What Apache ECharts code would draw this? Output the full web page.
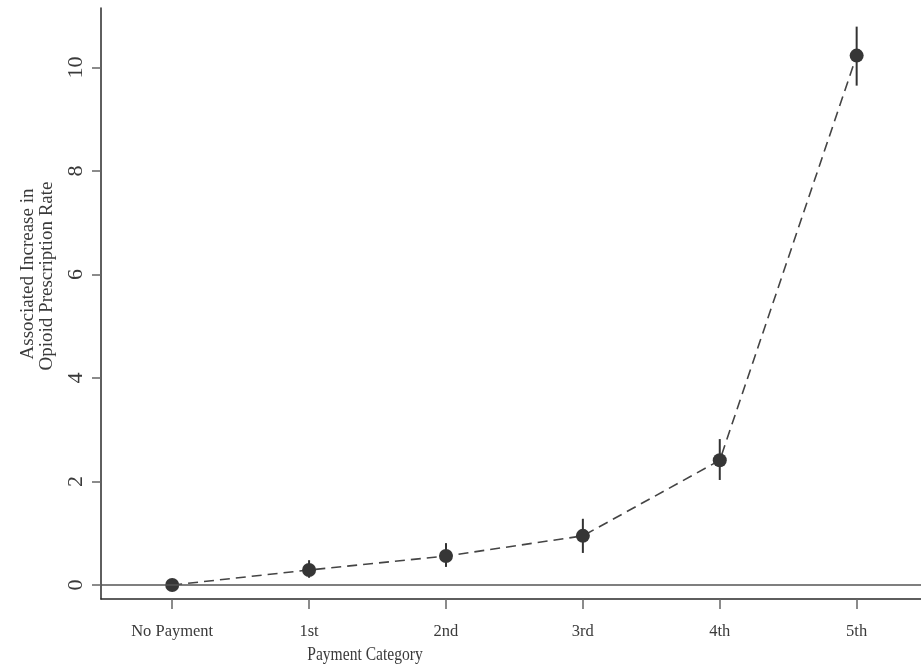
<!DOCTYPE html>
<html>
<head>
<meta charset="utf-8">
<script src="https://cdn.jsdelivr.net/npm/echarts@6/dist/echarts.min.js"></script>
<style>
html,body{margin:0;padding:0;background:#fff;}
#chart{width:921px;height:669px;}
</style>
</head>
<body>
<div id="chart"></div>
<script>
var categories = ['No Payment', '1st', '2nd', '3rd', '4th', '5th'];
var estimates = [0, 0.29, 0.56, 0.95, 2.41, 10.23];
var lowerCI = [0, 0.14, 0.35, 0.62, 2.03, 9.65];
var upperCI = [0, 0.48, 0.81, 1.28, 2.82, 10.79];
var yTicks = [0, 2, 4, 6, 8, 10];
var xTitle = 'Payment Category';
var yTitle = ['Associated Increase in', 'Opioid Prescription Rate'];

var FONT = '"Liberation Serif", "DejaVu Serif", serif';
var TXT = '#3a3a3a';
var xIdx = categories.map(function (c, i) { return i; });

var chart = echarts.init(document.getElementById('chart'));
chart.setOption({
  animation: false,
  backgroundColor: '#fff',
  grid: { left: 101, right: 0, top: 8, bottom: 70, containLabel: false },
  xAxis: {
    type: 'value', min: -0.52, max: 5.47,
    splitLine: { show: false },
    axisLine: { show: true, onZero: false, lineStyle: { color: '#2a2a2a', width: 1.5 } },
    axisTick: { show: true, customValues: xIdx, length: 10, lineStyle: { color: '#666', width: 1.5 } },
    axisLabel: {
      customValues: xIdx, margin: 24,
      formatter: function (v) { return categories[Math.round(v)]; },
      fontFamily: FONT, fontSize: 16.5, color: TXT
    }
  },
  yAxis: {
    type: 'value', min: -0.27, max: 11.15,
    splitLine: { show: false },
    axisLine: { show: true, onZero: false, lineStyle: { color: '#2a2a2a', width: 1.5 } },
    axisTick: { show: true, customValues: yTicks, length: 9, lineStyle: { color: '#666', width: 1.5 } },
    axisLabel: {
      customValues: yTicks, rotate: 90, margin: 14,
      fontFamily: FONT, fontSize: 22, color: TXT
    }
  },
  graphic: [
    { type: 'text', x: 365, y: 655, scaleX: 0.82, style: { text: xTitle, font: '19px ' + FONT, fill: TXT, align: 'center', verticalAlign: 'middle' } },
    { type: 'text', x: 28, y: 274, rotation: Math.PI / 2, style: { text: yTitle[0], font: '19px ' + FONT, fill: TXT, align: 'center', verticalAlign: 'middle' } },
    { type: 'text', x: 47, y: 276, rotation: Math.PI / 2, style: { text: yTitle[1], font: '19px ' + FONT, fill: TXT, align: 'center', verticalAlign: 'middle' } }
  ],
  series: [
    {
      type: 'custom',
      renderItem: function (params, api) {
        var x = api.value(0);
        var lo = api.coord([x, api.value(1)]);
        var hi = api.coord([x, api.value(2)]);
        return { type: 'line', shape: { x1: lo[0], y1: lo[1], x2: hi[0], y2: hi[1] }, style: { stroke: '#333', lineWidth: 2 } };
      },
      data: xIdx.map(function (i) { return [i, lowerCI[i], upperCI[i]]; }),
      z: 3
    },
    {
      type: 'line',
      data: xIdx.map(function (i) { return [i, estimates[i]]; }),
      symbol: 'circle', symbolSize: 14,
      itemStyle: { color: '#363636' },
      lineStyle: { color: '#444', width: 1.6, type: [10, 6] },
      markLine: {
        silent: true, symbol: 'none', label: { show: false },
        lineStyle: { color: '#555', width: 1.5, type: 'solid' },
        data: [{ yAxis: 0 }]
      },
      z: 4
    }
  ]
});
</script>
</body>
</html>
